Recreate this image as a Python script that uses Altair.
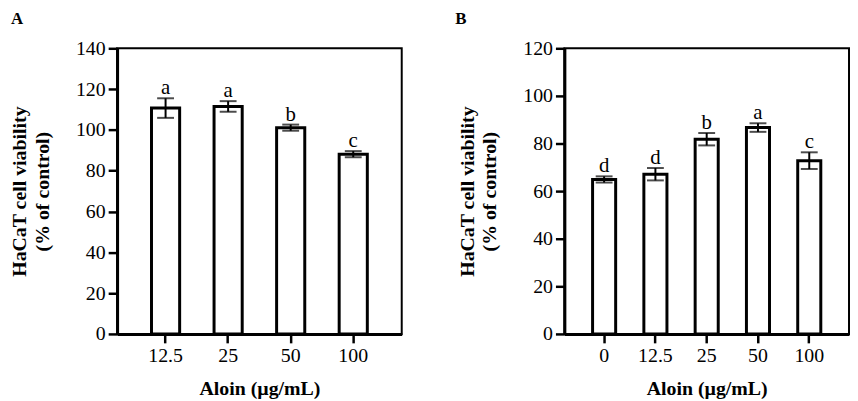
import altair as alt
import pandas as pd

FONT = "Liberation Serif"

# Panel A data
cats_a = ["12.5", "25", "50", "100"]
mean_a = [110.7, 111.5, 101.1, 88.1]
err_a = [4.8, 2.6, 1.5, 1.5]
sig_a = ["a", "a", "b", "c"]

# Panel B data
cats_b = ["0", "12.5", "25", "50", "100"]
mean_b = [64.9, 67.1, 81.8, 86.7, 72.8]
err_b = [1.3, 2.6, 2.6, 1.8, 3.5]
sig_b = ["d", "d", "b", "a", "c"]

ticks_a = [0, 20, 40, 60, 80, 100, 120, 140]
ticks_b = [0, 20, 40, 60, 80, 100, 120]


def make_df(cats, means, errs, sigs):
    return pd.DataFrame({
        "dose": cats,
        "mean": means,
        "lo": [m - e for m, e in zip(means, errs)],
        "hi": [m + e for m, e in zip(means, errs)],
        "sig": sigs,
    })


def panel(cats, means, errs, sigs, ymax, yticks, letter, lx, W, H):
    df = make_df(cats, means, errs, sigs)
    xs = alt.X("dose:N", sort=cats,
               scale=alt.Scale(paddingInner=0.55, paddingOuter=0.55),
               axis=alt.Axis(title="Aloin (µg/mL)", labelAngle=0, labelFont=FONT,
                             labelFontSize=20, labelColor="black", labelPadding=3,
                             tickSize=9, tickWidth=2.5, tickColor="black",
                             domainWidth=3, domainColor="black",
                             titleFont=FONT, titleFontSize=20, titleFontWeight="bold",
                             titleColor="black", titlePadding=13, grid=False))
    ys = alt.Y("mean:Q",
               scale=alt.Scale(domain=[0, ymax], nice=False, zero=True),
               axis=alt.Axis(title=["HaCaT cell viability", "(% of control)"],
                             values=yticks, labelFont=FONT, labelFontSize=20,
                             labelColor="black", labelPadding=3,
                             tickSize=9, tickWidth=2.5, tickColor="black",
                             domainWidth=3, domainColor="black",
                             titleFont=FONT, titleFontSize=20, titleFontWeight="bold",
                             titleColor="black", titleLineHeight=23,
                             titleX=-88, titleY=H / 2, titleAngle=-90,
                             grid=False))
    base = alt.Chart(df)
    bars = base.mark_bar(fill="white", stroke="black", strokeWidth=3).encode(x=xs, y=ys)
    rule = base.mark_rule(color="black", strokeWidth=2).encode(
        x=alt.X("dose:N", sort=cats), y=alt.Y("lo:Q"), y2="hi:Q")
    cap_hi = base.mark_tick(color="black", orient="horizontal", size=17, thickness=2).encode(
        x=alt.X("dose:N", sort=cats), y=alt.Y("hi:Q"))
    cap_lo = base.mark_tick(color="black", orient="horizontal", size=17, thickness=2).encode(
        x=alt.X("dose:N", sort=cats), y=alt.Y("lo:Q"))
    txt = base.mark_text(font=FONT, fontSize=21, color="black", baseline="alphabetic",
                         dy=-4).encode(x=alt.X("dose:N", sort=cats), y=alt.Y("hi:Q"),
                                       text="sig:N")
    lab = alt.Chart(pd.DataFrame({"t": [letter]})).mark_text(
        font=FONT, fontSize=17, fontWeight="bold", color="black",
        align="left", baseline="top").encode(
        x=alt.value(lx), y=alt.value(-37), text="t:N")
    return alt.layer(bars, rule, cap_hi, cap_lo, txt, lab).properties(width=W, height=H)


pa = panel(cats_a, mean_a, err_a, sig_a, 140, ticks_a, "A", -107, 287, 288)
pb = panel(cats_b, mean_b, err_b, sig_b, 120, ticks_b, "B", -110, 287, 288)

chart = alt.hconcat(pa, pb, spacing=164, bounds="flush").resolve_scale(
    x="independent", y="independent"
).properties(padding=0, background="white").configure_view(
    stroke="black", strokeWidth=2
)

chart.save("out.html", embed_options={"renderer": "svg", "actions": False})
